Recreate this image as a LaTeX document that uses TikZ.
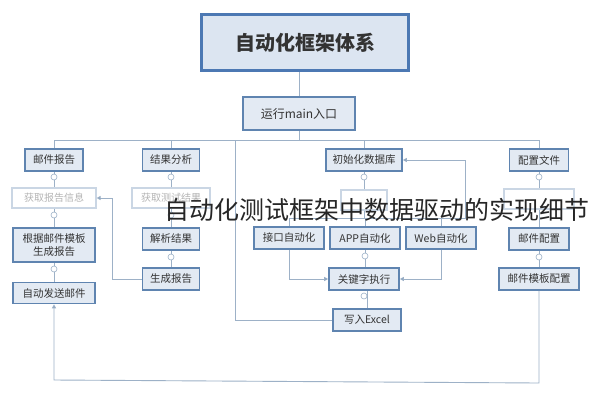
\documentclass[tikz,border=0pt]{standalone}
\usepackage{fontspec}
\newfontfamily\cjk{Noto Sans CJK SC}
\usetikzlibrary{arrows.meta}
\definecolor{boxc}{HTML}{5F84B0}
\definecolor{boxf}{HTML}{E3EAF3}
\definecolor{titc}{HTML}{4C78B3}
\definecolor{titf}{HTML}{DCE5F1}
\definecolor{linec}{HTML}{9DB1C7}
\definecolor{fadec}{HTML}{CAD6E4}
\definecolor{fadet}{HTML}{B4B4B4}
\definecolor{txt}{HTML}{333333}
\tikzset{
  box/.style={draw=boxc, fill=boxf, line width=1.6pt, minimum height=22pt, inner sep=1pt, text=txt, align=center,
    font=\cjk\fontsize{10.5}{13}\selectfont},
  fbox/.style={draw=fadec, fill=white, line width=1.2pt, minimum height=20pt, inner sep=1pt, text=fadet,
    font=\cjk\fontsize{10}{12}\selectfont},
  conn/.style={draw=linec, line width=0.9pt},
  arr/.style={conn, -{Triangle[length=4pt,width=4pt,fill=boxc]}},
  knob/.style={circle, draw=linec, fill=white, line width=0.6pt, minimum size=6pt, inner sep=0pt},
}
\begin{document}
\begin{tikzpicture}[x=1pt,y=-1pt]
\useasboundingbox (0,0) rectangle (594,400);
\fill[white] (0,0) rectangle (594,400);
% nodes
\node[draw=titc, fill=titf, line width=3pt, minimum width=207pt, minimum height=56pt, text=txt,
  font=\cjk\bfseries\fontsize{20}{24}\selectfont] (title) at (305,42.5) {自动化框架体系};
\node[box, minimum width=112pt, minimum height=33pt, font=\cjk\fontsize{12}{14}\selectfont] (main) at (299,113.5) {运行main入口};
\node[box, minimum width=58pt] (mail) at (54,160) {邮件报告};
\node[box, minimum width=57pt] (res) at (171,160) {结果分析};
\node[box, minimum width=76pt] (init) at (364,160) {初始化数据库};
\node[box, minimum width=59pt] (conf) at (539,160) {配置文件};
\node[fbox, minimum width=84pt] (f1) at (54,198) {获取报告信息};
\node[fbox, minimum width=78pt] (f2) at (171,198) {获取测试结果};
\node[fbox, minimum width=46pt] (f3) at (364,200) {};
\node[fbox, minimum width=70pt] (f4) at (539,199) {};
\node[box, minimum width=82pt, minimum height=34pt] (tpl) at (54,245) {根据邮件模板\\生成报告};
\node[box, minimum width=57pt] (parse) at (171,239) {解析结果};
\node[box, minimum width=70pt] (api) at (289,238) {接口自动化};
\node[box, minimum width=70pt] (app) at (365,238) {APP自动化};
\node[box, minimum width=70pt] (web) at (441,238) {Web自动化};
\node[box, minimum width=60pt] (mcfg) at (539,239) {邮件配置};
\node[box, minimum width=82pt, minimum height=21pt] (send) at (54,293) {自动发送邮件};
\node[box, minimum width=57pt] (gen) at (171,279) {生成报告};
\node[box, minimum width=70pt] (kw) at (364,279) {关键字执行};
\node[box, minimum width=80pt] (tcfg) at (539,279) {邮件模板配置};
\node[box, minimum width=68pt] (excel) at (367,320) {写入Excel};
% coordinates
\coordinate (busL) at (54,140);
\coordinate (busR) at (539,140);
\coordinate (busM) at (299,140);
\coordinate (ex1) at (235,320);
\coordinate (ex2) at (235,140);
\coordinate (g1) at (112,279);
\coordinate (g2) at (112,198);
\coordinate (w1) at (441,218);
\coordinate (w2) at (465,218);
\coordinate (w3) at (465,160);
\coordinate (a1) at (289,218);
\coordinate (k1) at (289,279);
\coordinate (k2) at (441,279);
\coordinate (b1) at (54,380);
\coordinate (b2) at (539,383);
\draw[conn] (title.south -| main) -- (main.north);
\draw[conn] (main.south) -- (busM);
\draw[conn] (busL) -- (busR);
\draw[conn] (busL) -- (mail.north);
\draw[conn] (res.north |- busL) -- (res.north);
\draw[conn] (init.north |- busL) -- (init.north);
\draw[conn] (busR) -- (conf.north);
% columns
\draw[conn] (mail.south) -- (f1.north);
\draw[conn] (f1.south) -- (tpl.north);
\draw[conn] (tpl.south) -- (send.north);
\draw[conn] (res.south) -- (f2.north);
\draw[conn] (f2.south) -- (parse.north);
\draw[conn] (parse.south) -- (gen.north);
\draw[conn] (init.south) -- (f3.north);
\draw[conn] (f3.south) -- (f3.south |- a1);
\draw[conn] (a1) -- (w1);
\draw[conn] (a1) -- (api.north);
\draw[conn] (app.north |- a1) -- (app.north);
\draw[conn] (w1) -- (web.north);
\draw[arr] (w1) -- (w2) -- (w3) -- (init.east);
\draw[conn] (conf.south) -- (f4.north);
\draw[conn] (f4.south) -- (mcfg.north);
\draw[conn] (mcfg.south) -- (tcfg.north);
% keyword
\draw[conn] (app.south) -- (app.south |- kw.north);
\draw[arr] (api.south) -- (k1) -- (kw.west);
\draw[arr] (web.south) -- (k2) -- (kw.east);
\draw[conn] (kw.south -| excel) -- (excel.north);
\draw[conn] (excel.west) -- (ex1) -- (ex2);
% report loop
\draw[arr] (gen.west) -- (g1) -- (g2) -- (f1.east);
\draw[arr] (tcfg.south) -- (b2) -- (b1) -- (send.south);
% knobs
\foreach \p in {(54,177),(54,215),(54,269),(171,177),(171,215),(171,257),(364,177),(365,256),(364,296),(539,177),(539,257)}
  \node[knob] at \p {};
% overlay text
\node[text=black!85, font=\cjk\fontsize{25}{28}\selectfont, inner sep=0] (ov) at (377,210) {自动化测试框架中数据驱动的实现细节};
\end{tikzpicture}
\end{document}
